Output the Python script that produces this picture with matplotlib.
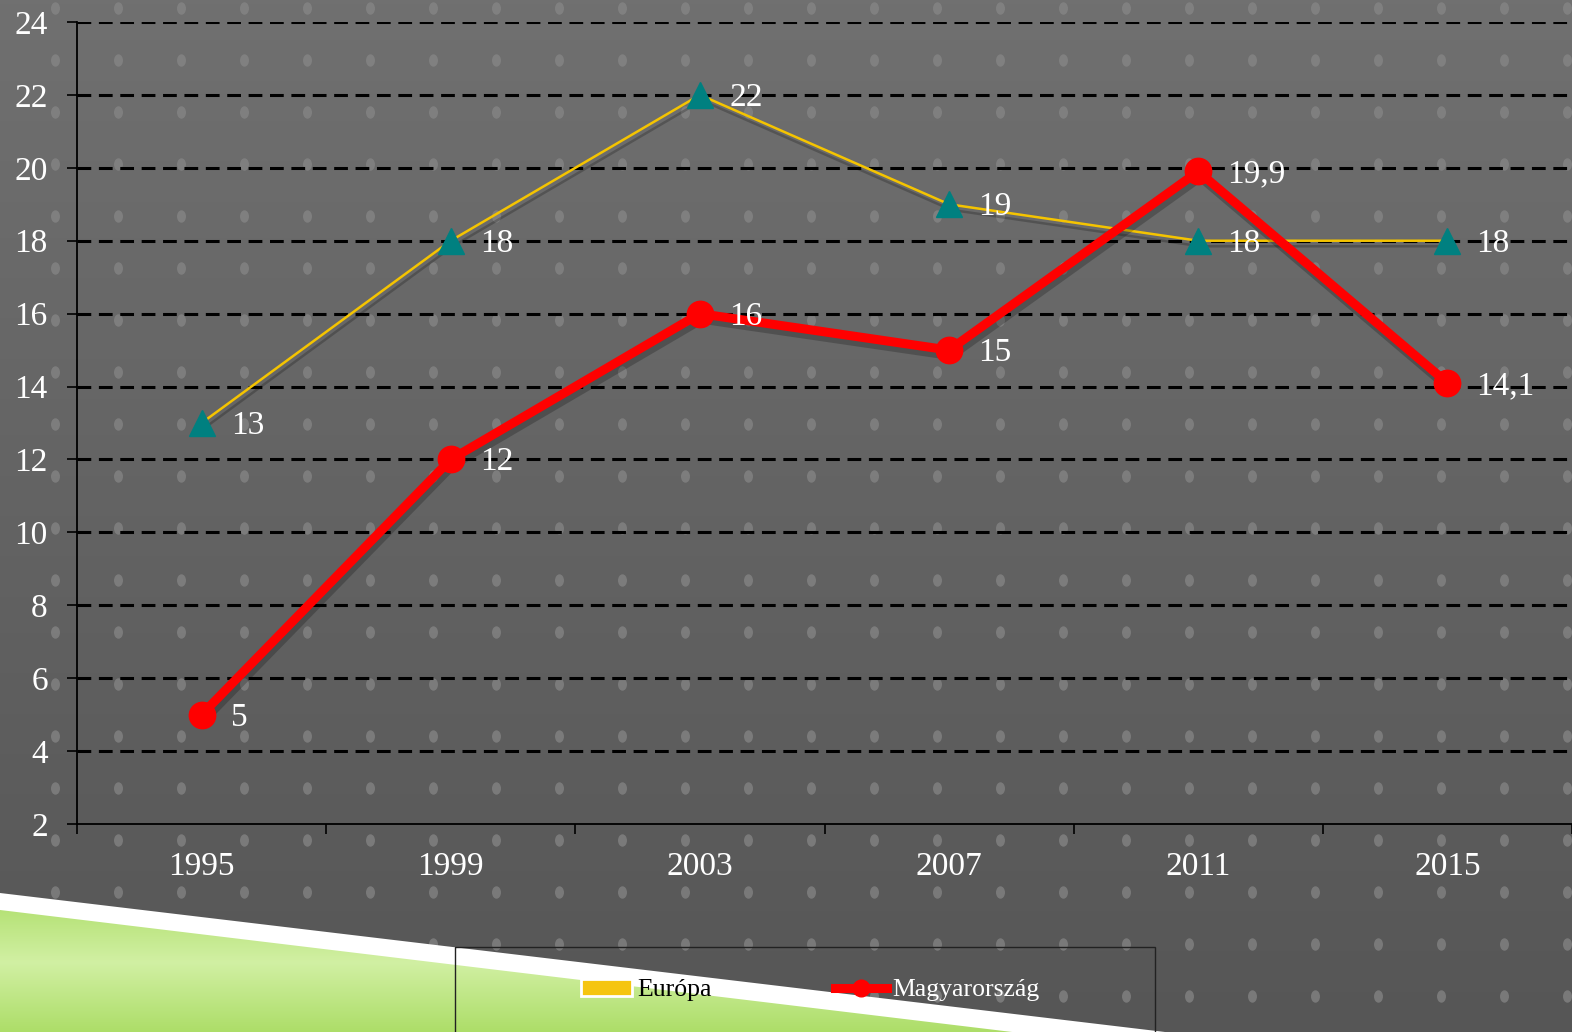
import numpy as np
import matplotlib
matplotlib.use("Agg")
import matplotlib.pyplot as plt
import matplotlib.patheffects as pe
from matplotlib.patches import Polygon, Rectangle, Patch
from matplotlib.lines import Line2D
from matplotlib.path import Path
from matplotlib.transforms import Affine2D

years = ["1995", "1999", "2003", "2007", "2011", "2015"]
europa = [13, 18, 22, 19, 18, 18]
magyar = [5, 12, 16, 15, 19.9, 14.1]
europa_labels = ["13", "18", "22", "19", "18", "18"]
magyar_labels = ["5", "12", "16", "15", "19,9", "14,1"]
yticks = list(range(2, 25, 2))

plt.rcParams['font.family'] = ['Liberation Serif', 'DejaVu Serif']

W, H = 1572, 1032
fig = plt.figure(figsize=(W / 100, H / 100), dpi=100)

# background: grey gradient + dot pattern + green stripe
bg = fig.add_axes([0, 0, 1, 1], zorder=-5)
bg.set_xlim(0, W)
bg.set_ylim(H, 0)
bg.axis("off")
grad = np.linspace(112, 86, 256)[:, None] / 255.0
bg.imshow(np.dstack([grad, grad, grad]), extent=[0, W, H, 0], aspect="auto", zorder=0)
dx = np.arange(55, W + 10, 63)
dy = np.arange(8, H + 10, 52)
gx, gy = np.meshgrid(dx, dy)
dot = Path(Affine2D().scale(0.72, 1.0).transform(Path.unit_circle().vertices),
           Path.unit_circle().codes)
bg.scatter(gx.ravel(), gy.ravel(), s=80, marker=dot, color="#888888", alpha=0.7,
           linewidths=0, zorder=1)

# white band then green
bg.add_patch(Polygon([(0, 893), (1165, 1032), (0, 1032)], closed=True,
                     facecolor="white", edgecolor="none", zorder=2))
green_img = np.zeros((64, 2, 3))
t = np.linspace(0, 1, 64)
light = np.array([0.82, 0.94, 0.64])
dark = np.array([0.66, 0.86, 0.38])
mix = np.clip(1 - np.abs(t - 0.45) * 1.6, 0, 1)[:, None]
col = dark + (light - dark) * mix
green_img[:, 0, :] = col
green_img[:, 1, :] = col
gpoly = Polygon([(0, 910), (1120, 1045), (0, 1045)], closed=True,
                facecolor="none", edgecolor="none")
bg.add_patch(gpoly)
im = bg.imshow(green_img, extent=[0, 1160, 1032, 905], aspect="auto", zorder=3)
im.set_clip_path(gpoly)

# legend frame
bg.add_patch(Rectangle((455, 947), 700, 90, facecolor="none", edgecolor="#222222",
                       lw=1.0, zorder=4))

# main chart
ax = fig.add_axes([77 / W, 1 - 824 / H, 1 - 77 / W, (824 - 22) / H])
ax.patch.set_visible(False)
x = np.arange(len(years))

shadow = [pe.SimpleLineShadow(offset=(1.5, -4), shadow_color="black", alpha=0.22), pe.Normal()]
ax.plot(x, europa, color="#F5C400", lw=1.8, zorder=4, path_effects=shadow)
ax.plot(x, europa, ls="none", marker="^", ms=19, markerfacecolor="#008080",
        markeredgecolor="#008080", zorder=4.5, clip_on=False)
ax.plot(x, magyar, color="#FF0000", lw=6.5, zorder=5, path_effects=shadow)
ax.plot(x, magyar, ls="none", marker="o", ms=19, markerfacecolor="#FF0000",
        markeredgecolor="#FF0000", zorder=5.5, clip_on=False)

for xi, v, lab in zip(x, europa, europa_labels):
    ax.annotate(lab, (xi, v), xytext=(21, -2), textcoords="offset points",
                ha="left", va="center", color="white", fontsize=24, zorder=6)
for xi, v, lab in zip(x, magyar, magyar_labels):
    ax.annotate(lab, (xi, v), xytext=(21, -2), textcoords="offset points",
                ha="left", va="center", color="white", fontsize=24, zorder=6)

ax.set_xlim(-0.5, 5.5)
ax.set_ylim(2, 24)
ax.set_yticks(yticks)
ax.set_yticklabels([str(v) for v in yticks])
ax.set_xticks(x)
ax.set_xticklabels(years)
ax.set_xticks(np.arange(-0.5, 6, 1), minor=True)

for yv in yticks[1:]:
    ax.axhline(yv, color="black", lw=2.2, ls=(0, (4.5, 2.5)), zorder=1)

for s in ["top", "right"]:
    ax.spines[s].set_visible(False)
for s in ["left", "bottom"]:
    ax.spines[s].set_color("black")
    ax.spines[s].set_linewidth(1.3)

ax.tick_params(axis="y", colors="black", labelcolor="white", labelsize=24,
               length=7, width=1.2, pad=14)
ax.tick_params(axis="x", which="major", length=0, labelcolor="white", labelsize=24, pad=20)
ax.tick_params(axis="x", which="minor", length=7, width=1.2, color="black")

handles = [Patch(facecolor="#F5C510", edgecolor="white", lw=2),
           Line2D([0], [0], color="#FF0000", lw=6.5, marker="o", ms=12)]
leg = fig.legend(handles, ["Európa", "Magyarország"], loc="center",
                 bbox_to_anchor=(810 / W, 1 - 990 / H), ncol=2, frameon=False,
                 fontsize=18.5, handlelength=2.0, handletextpad=0.2, columnspacing=4.8)
leg.get_texts()[0].set_color("black")
leg.get_texts()[1].set_color("white")

fig.savefig("out.png", dpi=100)
